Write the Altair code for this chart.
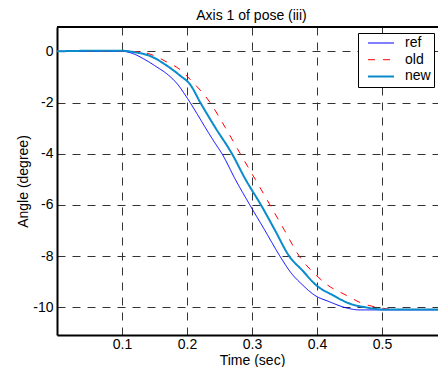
import altair as alt
import pandas as pd

# ---- data ----
ref_t = [0.0, 0.05, 0.1, 0.118, 0.133, 0.154, 0.169, 0.185, 0.201, 0.215, 0.228, 0.241, 0.255, 0.2743, 0.2967, 0.32, 0.343, 0.36, 0.378, 0.396, 0.419, 0.445, 0.465, 0.5, 0.55, 0.6]
ref_v = [0.0, 0.0, 0.0, -0.1, -0.29, -0.62, -0.88, -1.27, -1.85, -2.42, -2.97, -3.5, -4.05, -5.0, -6.0, -7.0, -8.0, -8.65, -9.13, -9.52, -9.78, -10.02, -10.1, -10.1, -10.1, -10.1]

old_t = [0.0, 0.05, 0.1, 0.123, 0.1486, 0.169, 0.1897, 0.205, 0.2355, 0.259, 0.282, 0.305, 0.3277, 0.35, 0.3727, 0.3985, 0.4163, 0.4446, 0.47, 0.4932, 0.52, 0.6]
old_v = [0.0, 0.0, 0.0, -0.01, -0.16, -0.42, -0.72, -1.1, -2.0, -2.98, -4.0, -5.0, -6.0, -6.99, -8.0, -8.74, -9.13, -9.52, -9.85, -10.0, -10.08, -10.08]

new_t = [0.0, 0.05, 0.1, 0.118, 0.144, 0.169, 0.1895, 0.205, 0.2205, 0.2436, 0.2692, 0.29, 0.3138, 0.335, 0.3573, 0.378, 0.3985, 0.424, 0.45, 0.475, 0.5, 0.55, 0.6]
new_v = [0.0, 0.02, 0.02, -0.03, -0.19, -0.56, -0.95, -1.3, -2.0, -2.98, -4.0, -5.0, -6.0, -6.97, -8.0, -8.57, -9.13, -9.52, -9.85, -10.0, -10.08, -10.08, -10.08]

series = ["ref", "old", "new"]
colors = ["#0000ff", "#ff0000", "#0a8bcb"]
dashes = [[1, 0], [7, 8], [1, 0]]
widths = [1, 1, 2]
x_ticks = [0.1, 0.2, 0.3, 0.4, 0.5]
y_ticks = [-10, -8, -6, -4, -2, 0]
x_domain = [0, 0.5862]   # visible part of the 0..0.6 axis
y_domain = [-11.08, 0.95]

rows = []
for name, ts, vs in zip(series, [ref_t, old_t, new_t], [ref_v, old_v, new_v]):
    for t, v in zip(ts, vs):
        rows.append({"series": name, "t": t, "v": v})
df = pd.DataFrame(rows)

FONT = "Liberation Sans"

x_enc = alt.X(
    "t:Q",
    scale=alt.Scale(domain=x_domain, nice=False, zero=False),
    axis=alt.Axis(values=x_ticks, format=".1f", title="Time (sec)",
                  titleX=195, titleY=29, titleBaseline="alphabetic", titleAlign="center",
                  labelPadding=2),
)
y_enc = alt.Y(
    "v:Q",
    scale=alt.Scale(domain=y_domain, nice=False, zero=False),
    axis=alt.Axis(values=y_ticks, labelExpr="toString(datum.value)", title="Angle (degree)",
                  titleX=-30, titleY=154, titleBaseline="alphabetic", titleAlign="center",
                  labelPadding=4),
)


def make_legend():
    return alt.Legend(title=None, orient="none", legendX=301, legendY=6,
                      symbolType="M-2.6,0L2.6,0", symbolSize=100,
                      labelExpr="datum.label + '  '")


color_enc = alt.Color("series:N", scale=alt.Scale(domain=series, range=colors), legend=make_legend())
dash_enc = alt.StrokeDash("series:N", scale=alt.Scale(domain=series, range=dashes), legend=make_legend())
width_enc = alt.StrokeWidth("series:N", scale=alt.Scale(type="ordinal", domain=series, range=widths),
                            legend=make_legend())

base = alt.Chart(df)
layers = []
for name in series:
    layers.append(
        base.transform_filter(alt.datum.series == name)
        .mark_line(interpolate="monotone", clip=True)
        .encode(x=x_enc, y=y_enc, color=color_enc, strokeDash=dash_enc, strokeWidth=width_enc)
    )

top_border = base.mark_rule(color="black", strokeWidth=1).encode(y=alt.datum(y_domain[1]))

chart = (
    alt.layer(*layers, top_border)
    .properties(
        width=381,
        height=308,
        title=alt.TitleParams("Axis 1 of pose (iii)", font=FONT, fontSize=14, fontWeight="normal",
                              color="black", anchor="middle", baseline="alphabetic", offset=10,
                              dy=17.5, dx=4),
        autosize=alt.AutoSizeParams(type="none"),
        padding={"left": 49, "top": 19, "right": 0, "bottom": 32},
    )
    .configure_view(strokeWidth=0)
    .configure_axis(
        labelFont=FONT, labelFontSize=14, labelColor="black",
        titleFont=FONT, titleFontSize=14, titleFontWeight="normal", titleColor="black",
        domainColor="black", domainWidth=2, ticks=False,
        grid=True, gridColor="#333333", gridDash=[8, 7], gridWidth=1, gridOpacity=1,
    )
    .configure_legend(
        labelFont=FONT, labelFontSize=14, labelColor="black",
        padding=3, symbolOffset=13, labelOffset=17, rowPadding=2.7,
        strokeColor="black", fillColor="white", cornerRadius=0,
    )
)

chart.save("out.html", embed_options={"renderer": "svg", "actions": False})
